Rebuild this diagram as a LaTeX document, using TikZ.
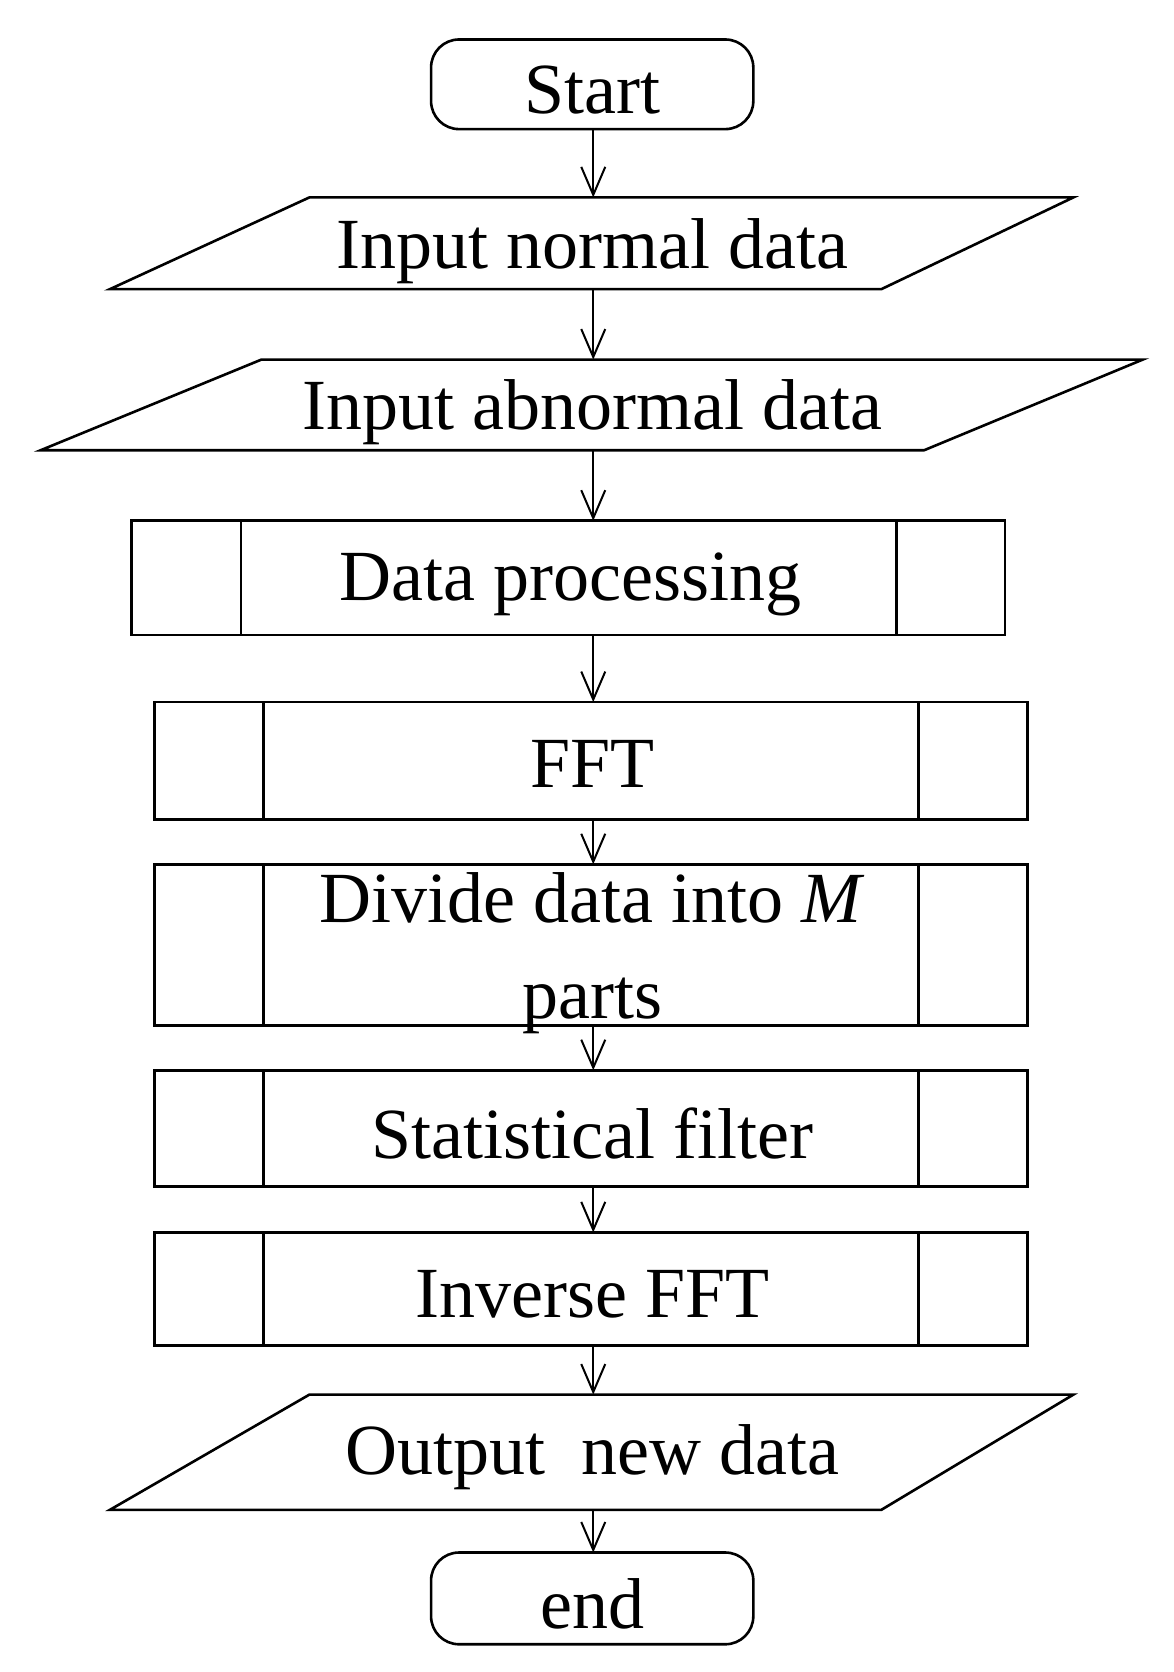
\documentclass[tikz,border=0pt]{standalone}
\usepackage{fontspec}
\setmainfont{Liberation Serif}
\usetikzlibrary{arrows.meta}
\begin{document}
\begin{tikzpicture}[x=0.5335pt,y=-0.5335pt,line width=1.3pt,
  txt/.style={font=\fontsize{36}{46}\selectfont,inner sep=0pt},
  arr/.style={-{Straight Barb[length=14pt,width=12pt,line width=1pt]},line width=1pt}]
\useasboundingbox (0,0) rectangle (1100,1567);
% Start / end
\draw[rounded corners=14pt] (404,37) rectangle (706,121);
\node[txt] (start) at (555,84) {Start};
\coordinate (startB) at (556,121);
\draw[rounded corners=14pt] (404,1455) rectangle (706,1541);
\node[txt] (endn) at (555,1503) {end};
\coordinate (endT) at (556,1455);
% parallelograms
\draw (290,185) -- (1006,185) -- (826,271) -- (103,271) -- cycle;
\node[txt] (in1) at (555,235) {Input normal data};
\coordinate (in1T) at (556,185); \coordinate (in1B) at (556,271);
\draw (245,337) -- (1071,337) -- (866,422) -- (38,422) -- cycle;
\node[txt] (in2) at (555,386) {Input abnormal data};
\coordinate (in2T) at (556,337); \coordinate (in2B) at (556,422);
\draw (290,1307) -- (1006,1307) -- (826,1415) -- (103,1415) -- cycle;
\node[txt] (out) at (555,1366) {Output \ new data};
\coordinate (outT) at (556,1307); \coordinate (outB) at (556,1415);
% process boxes
\draw (123,488) rectangle (942,595); \draw (226,488)--(226,595); \draw (840,488)--(840,595);
\node[txt] (dp) at (535,548) {Data processing};
\coordinate (dpT) at (556,488); \coordinate (dpB) at (556,595);
\foreach \n/\a/\b in {fft/658/768, div/810/961, sf/1003/1112, ifft/1155/1261}{
  \draw (145,\a) rectangle (963,\b); \draw (247,\a)--(247,\b); \draw (861,\a)--(861,\b);
  \coordinate (\n T) at (556,\a); \coordinate (\n B) at (556,\b);}
\node[txt] (fftt) at (555,716) {FFT};
\node[txt,align=center] (divt) at (555,893) {Divide data into \textit{M}\\[2pt]parts};
\node[txt] (sft) at (555,1062) {Statistical filter};
\node[txt] (ifftt) at (555,1213) {Inverse FFT};
% arrows
\draw[arr] (startB) -- (in1T);
\draw[arr] (in1B) -- (in2T);
\draw[arr] (in2B) -- (dpT);
\draw[arr] (dpB) -- (fftT);
\draw[arr] (fftB) -- (divT);
\draw[arr] (divB) -- (sfT);
\draw[arr] (sfB) -- (ifftT);
\draw[arr] (ifftB) -- (outT);
\draw[arr] (outB) -- (endT);
\end{tikzpicture}
\end{document}
